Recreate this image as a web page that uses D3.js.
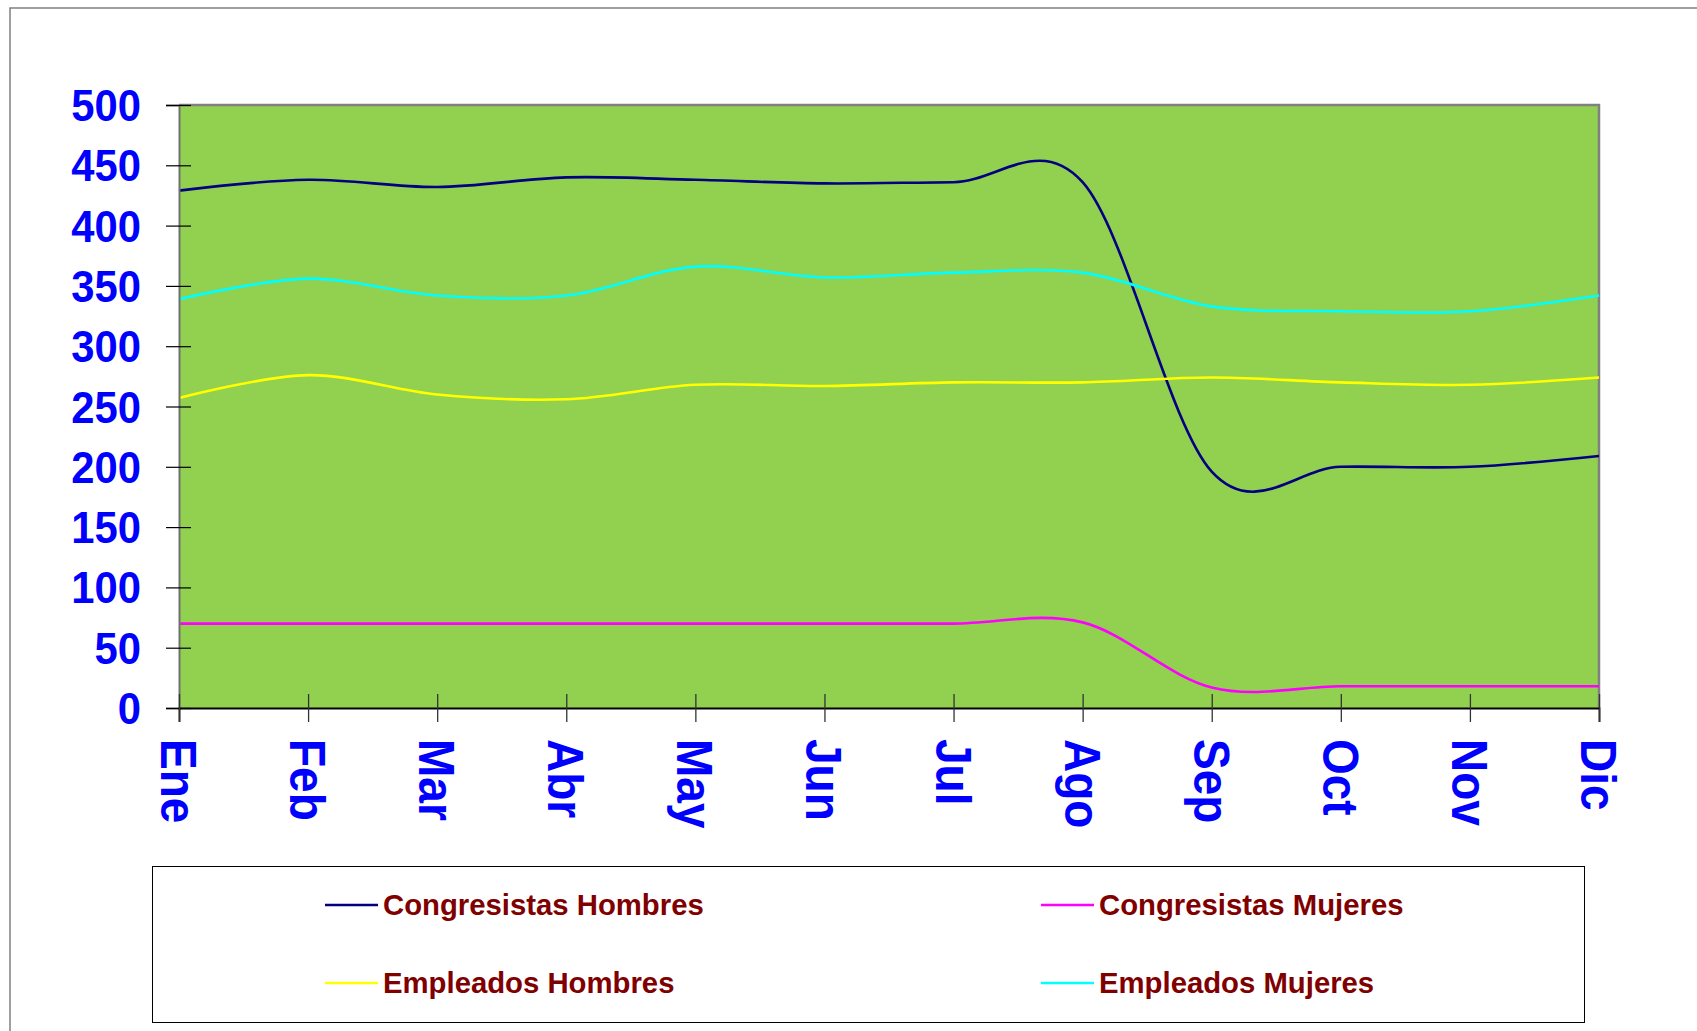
<!DOCTYPE html>
<html>
<head>
<meta charset="utf-8">
<script src="https://cdn.jsdelivr.net/npm/d3@7"></script>
<style>
  html, body { margin: 0; padding: 0; background: #ffffff; }
  svg { display: block; }
</style>
</head>
<body>
<svg id="chart" width="1697" height="1031"></svg>
<script>
const months = ["Ene","Feb","Mar","Abr","May","Jun","Jul","Ago","Sep","Oct","Nov","Dic"];
const yTicks = [0,50,100,150,200,250,300,350,400,450,500];
const congresistasHombres = [429, 438, 432, 440, 438, 435, 436, 436, 196, 200, 200, 209];
const congresistasMujeres = [70, 70, 70, 70, 70, 70, 70, 71, 17, 18, 18, 18];
const empleadosHombres   = [257, 276, 260, 256, 268, 267, 270, 270, 274, 270, 268, 274];
const empleadosMujeres   = [339, 356, 342, 342, 366, 357, 361, 361, 333, 329, 329, 342];
const seriesNames = ["Congresistas Hombres","Congresistas Mujeres","Empleados Hombres","Empleados Mujeres"];
const seriesColors = ["#000080","#FF00FF","#FFFF00","#00FFFF"];

(function () {
const series = [
  {name: seriesNames[0], values: congresistasHombres, color: seriesColors[0]},
  {name: seriesNames[1], values: congresistasMujeres, color: seriesColors[1]},
  {name: seriesNames[2], values: empleadosHombres, color: seriesColors[2]},
  {name: seriesNames[3], values: empleadosMujeres, color: seriesColors[3]}
];

const FONT = "'Liberation Sans', Arial, Helvetica, sans-serif";
const svg = d3.select("#chart");

// outer frame
svg.append("rect").attr("x", 10).attr("y", 8).attr("width", 1720).attr("height", 1060)
  .attr("fill", "none").attr("stroke", "#808080").attr("stroke-width", 1.5);

const pL = 179, pR = 1599, pT = 105, pB = 708;
const x = d3.scalePoint().domain(months).range([pL, pR]);
const y = d3.scaleLinear().domain([0, 500]).range([pB, pT]);

// plot area
svg.append("rect").attr("x", pL).attr("y", pT).attr("width", pR - pL).attr("height", pB - pT)
  .attr("fill", "#92D050");
svg.append("path").attr("d", `M${pL},${pT}H${pR}V${pB}`)
  .attr("fill", "none").attr("stroke", "#808080").attr("stroke-width", 2.5);

// lines
const line = d3.line()
  .x((d, i) => x(months[i]))
  .y(d => y(d))
  .curve(d3.curveCardinal.tension(0));

svg.append("g").selectAll("path").data(series).join("path")
  .attr("d", d => line(d.values))
  .attr("fill", "none")
  .attr("stroke", d => d.color)
  .attr("stroke-width", 2.6)
  .attr("stroke-linejoin", "round");

// y axis
const yAxis = svg.append("g").attr("transform", `translate(${pL},0)`)
  .call(d3.axisLeft(y).tickValues(yTicks).tickSize(13).tickPadding(0));
yAxis.select(".domain").attr("stroke", "#707070").attr("stroke-width", 2);
yAxis.selectAll(".tick line").attr("x1", 12).attr("x2", -13).attr("stroke", "#000").attr("stroke-width", 1.2);
yAxis.selectAll(".tick text").remove();
yAxis.selectAll(".tick").append("text")
  .attr("text-anchor", "end")
  .attr("transform", "translate(-38,15.5) scale(0.95,1)")
  .attr("fill", "#0000FF")
  .attr("font-family", FONT)
  .attr("font-weight", "bold")
  .attr("font-size", 44)
  .text(d => d);

// x axis
const xAxis = svg.append("g").attr("transform", `translate(0,${pB})`)
  .call(d3.axisBottom(x).tickSize(14).tickPadding(0));
xAxis.select(".domain").attr("stroke", "#000").attr("stroke-width", 1.8);
xAxis.selectAll(".tick line").attr("y1", -14).attr("y2", 14).attr("stroke", "#333").attr("stroke-width", 1.3);
xAxis.selectAll(".tick text").remove();
xAxis.selectAll(".tick").append("text")
  .attr("text-anchor", "start")
  .attr("transform", "translate(-18.5,31) rotate(90) scale(1,1.08)")
  .attr("fill", "#0000FF")
  .attr("font-family", FONT)
  .attr("font-weight", "bold")
  .attr("font-size", 46)
  .text(d => d);

// legend
svg.append("rect").attr("x", 152.5).attr("y", 866.5).attr("width", 1432).attr("height", 156)
  .attr("fill", "#fff").attr("stroke", "#000").attr("stroke-width", 1);
const legPos = [
  {lx: 325, ty: 905},
  {lx: 1041, ty: 905},
  {lx: 325, ty: 983},
  {lx: 1041, ty: 983}
];
const leg = svg.append("g").selectAll("g").data(series).join("g")
  .attr("transform", (d, i) => `translate(${legPos[i].lx},${legPos[i].ty})`);
leg.append("line").attr("x1", 0).attr("x2", 53).attr("y1", 0).attr("y2", 0)
  .attr("stroke", d => d.color).attr("stroke-width", 2.6);
leg.append("text").attr("x", 58).attr("y", 10)
  .attr("fill", "#800000")
  .attr("font-family", FONT)
  .attr("font-weight", "bold")
  .attr("font-size", 29.3)
  .text(d => d.name);
})();
</script>
</body>
</html>
